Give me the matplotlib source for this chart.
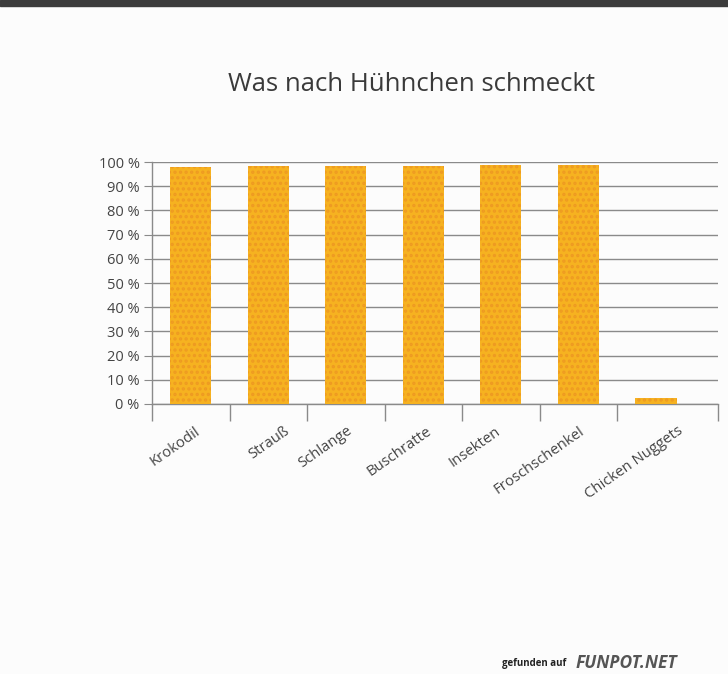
import matplotlib.pyplot as plt
import matplotlib.transforms as mtransforms
import numpy as np

# Daten
kategorien = ['Krokodil', 'Strauß', 'Schlange', 'Buschratte', 'Insekten',
              'Froschschenkel', 'Chicken Nuggets']
werte = [98.0, 98.3, 98.3, 98.5, 98.6, 98.8, 2.5]
y_ticks = [0, 10, 20, 30, 40, 50, 60, 70, 80, 90, 100]
titel = 'Was nach Hühnchen schmeckt'

plt.rcParams['font.family'] = ['Open Sans', 'DejaVu Sans']
plt.rcParams['hatch.linewidth'] = 1.6

fig = plt.figure(figsize=(7.28, 6.74), dpi=100)
fig.patch.set_facecolor('#fcfcfc')
ax = fig.add_axes([0.2088, 0.4006, 0.7775, 0.359])
ax.set_facecolor('none')

x = np.arange(len(kategorien))
ax.bar(x, werte, width=0.53, color='#f6b220', edgecolor='#ee9a22',
       hatch='...', linewidth=0, zorder=3)

ax.set_xlim(-0.5, 6.8)
ax.set_ylim(0, 100)
ax.set_yticks(y_ticks)
ax.set_yticklabels([f'{v} %' for v in y_ticks], fontsize=10.5, color='#444444')
ax.grid(axis='y', color='#8a8a8a', linewidth=1.0, zorder=1)
ax.tick_params(axis='y', length=6, color='#8a8a8a', pad=3)

ax.set_xticks(x)
ax.set_xticklabels(kategorien, rotation=35, ha='right', rotation_mode='anchor',
                   fontsize=10.7, color='#444444')
ax.tick_params(axis='x', length=0, pad=14)
# die Beschriftungen stehen im Original leicht unregelmaessig
versatz_px = [4, 15, 1, 3, -6, 0, 21]
for lbl, dx in zip(ax.get_xticklabels(), versatz_px):
    t = mtransforms.ScaledTranslation(dx / 100, 0, fig.dpi_scale_trans)
    lbl.set_transform(lbl.get_transform() + t)

# Trennstriche zwischen den Kategorien
grenzen = list(np.arange(-0.5, 6, 1.0)) + [6.8]
ax.set_xticks(grenzen, minor=True)
ax.tick_params(axis='x', which='minor', length=12, color='#8a8a8a', width=1.0)

for s in ['top', 'right']:
    ax.spines[s].set_visible(False)
for s in ['left', 'bottom']:
    ax.spines[s].set_color('#8a8a8a')
    ax.spines[s].set_linewidth(1.0)

fig.text(0.565, 0.874, titel, ha='center', va='center', fontsize=18.5,
         color='#3a3a3a')

# Scan-Rand oben
fig.patches.append(plt.Rectangle((0, 0.991), 1, 0.009, transform=fig.transFigure,
                                 color='#3c3c3c', zorder=0))
# Wasserzeichen
fig.text(0.69, 0.016, 'gefunden auf', fontsize=7, color='#222222',
         fontweight='bold', ha='left', va='center')
fig.text(0.79, 0.016, 'FUNPOT.NET', fontsize=12.5, color='#555555',
         fontweight='bold', fontstyle='italic', ha='left', va='center')

fig.savefig('out.png', dpi=100, facecolor=fig.get_facecolor())
